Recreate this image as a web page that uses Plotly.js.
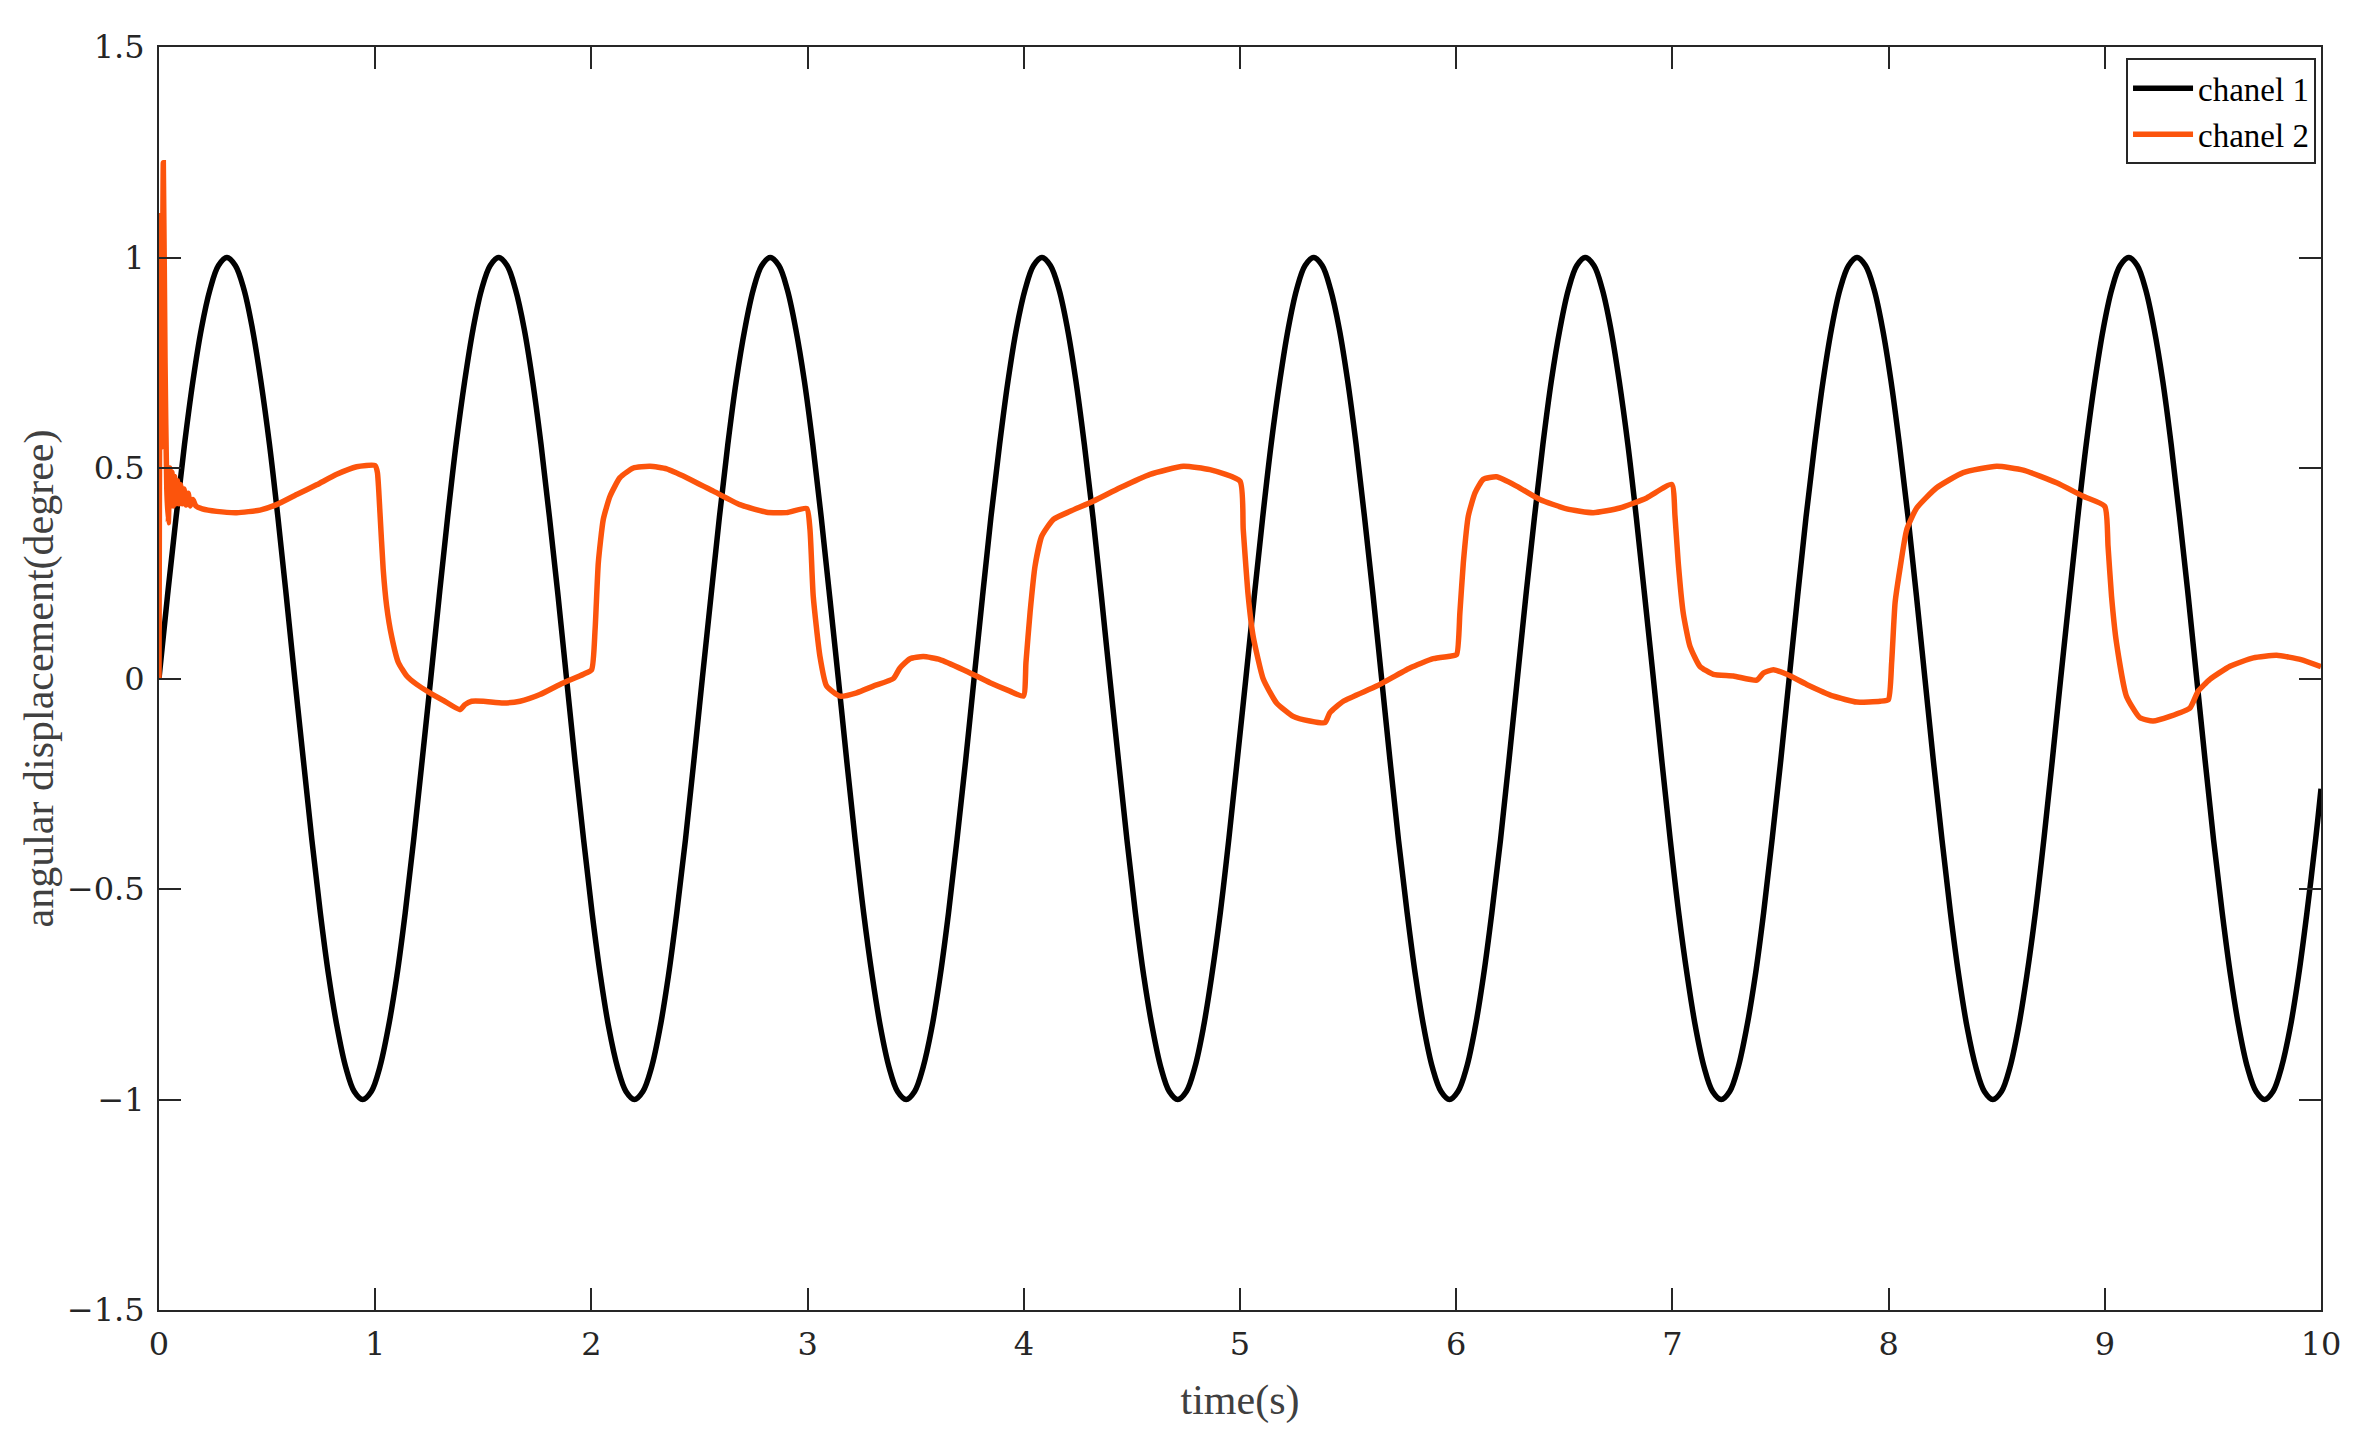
<!DOCTYPE html>
<html>
<head>
<meta charset="utf-8">
<script src="https://cdn.plot.ly/plotly-3.0.1.min.js"></script>
<style>html,body{margin:0;padding:0;background:#fff;}#chart{width:2356px;height:1436px;}</style>
</head>
<body>
<div id="chart"></div>
<script>
// chanel 1 (32 readings per cycle)
const ch1Time = [
  0, 0.039, 0.079, 0.118, 0.157, 0.196, 0.236, 0.275, 0.314, 0.353, 0.393, 0.432, 0.471, 0.511, 0.550, 0.589,
  0.628, 0.668, 0.707, 0.746, 0.785, 0.825, 0.864, 0.903, 0.942, 0.982, 1.021, 1.060, 1.100, 1.139, 1.178, 1.217,
  1.257, 1.296, 1.335, 1.374, 1.414, 1.453, 1.492, 1.532, 1.571, 1.610, 1.649, 1.689, 1.728, 1.767, 1.806, 1.846,
  1.885, 1.924, 1.964, 2.003, 2.042, 2.081, 2.121, 2.160, 2.199, 2.238, 2.278, 2.317, 2.356, 2.395, 2.435, 2.474,
  2.513, 2.553, 2.592, 2.631, 2.670, 2.710, 2.749, 2.788, 2.827, 2.867, 2.906, 2.945, 2.985, 3.024, 3.063, 3.102,
  3.142, 3.181, 3.220, 3.259, 3.299, 3.338, 3.377, 3.416, 3.456, 3.495, 3.534, 3.574, 3.613, 3.652, 3.691, 3.731,
  3.770, 3.809, 3.848, 3.888, 3.927, 3.966, 4.006, 4.045, 4.084, 4.123, 4.163, 4.202, 4.241, 4.280, 4.320, 4.359,
  4.398, 4.438, 4.477, 4.516, 4.555, 4.595, 4.634, 4.673, 4.712, 4.752, 4.791, 4.830, 4.869, 4.909, 4.948, 4.987,
  5.027, 5.066, 5.105, 5.144, 5.184, 5.223, 5.262, 5.301, 5.341, 5.380, 5.419, 5.459, 5.498, 5.537, 5.576, 5.616,
  5.655, 5.694, 5.733, 5.773, 5.812, 5.851, 5.890, 5.930, 5.969, 6.008, 6.048, 6.087, 6.126, 6.165, 6.205, 6.244,
  6.283, 6.322, 6.362, 6.401, 6.440, 6.480, 6.519, 6.558, 6.597, 6.637, 6.676, 6.715, 6.754, 6.794, 6.833, 6.872,
  6.912, 6.951, 6.990, 7.029, 7.069, 7.108, 7.147, 7.186, 7.226, 7.265, 7.304, 7.343, 7.383, 7.422, 7.461, 7.501,
  7.540, 7.579, 7.618, 7.658, 7.697, 7.736, 7.775, 7.815, 7.854, 7.893, 7.933, 7.972, 8.011, 8.050, 8.090, 8.129,
  8.168, 8.207, 8.247, 8.286, 8.325, 8.364, 8.404, 8.443, 8.482, 8.522, 8.561, 8.600, 8.639, 8.679, 8.718, 8.757,
  8.796, 8.836, 8.875, 8.914, 8.954, 8.993, 9.032, 9.071, 9.111, 9.150, 9.189, 9.228, 9.268, 9.307, 9.346, 9.386,
  9.425, 9.464, 9.503, 9.543, 9.582, 9.621, 9.660, 9.700, 9.739, 9.778, 9.817, 9.857, 9.896, 9.935, 9.975, 10];
const ch1Value = [
  0, 0.195, 0.383, 0.556, 0.707, 0.831, 0.924, 0.981, 1, 0.981, 0.924, 0.831, 0.707, 0.556, 0.383, 0.195,
  0, -0.195, -0.383, -0.556, -0.707, -0.831, -0.924, -0.981, -1, -0.981, -0.924, -0.831, -0.707, -0.556, -0.383, -0.195,
  0, 0.195, 0.383, 0.556, 0.707, 0.831, 0.924, 0.981, 1, 0.981, 0.924, 0.831, 0.707, 0.556, 0.383, 0.195,
  0, -0.195, -0.383, -0.556, -0.707, -0.831, -0.924, -0.981, -1, -0.981, -0.924, -0.831, -0.707, -0.556, -0.383, -0.195,
  0, 0.195, 0.383, 0.556, 0.707, 0.831, 0.924, 0.981, 1, 0.981, 0.924, 0.831, 0.707, 0.556, 0.383, 0.195,
  0, -0.195, -0.383, -0.556, -0.707, -0.831, -0.924, -0.981, -1, -0.981, -0.924, -0.831, -0.707, -0.556, -0.383, -0.195,
  0, 0.195, 0.383, 0.556, 0.707, 0.831, 0.924, 0.981, 1, 0.981, 0.924, 0.831, 0.707, 0.556, 0.383, 0.195,
  0, -0.195, -0.383, -0.556, -0.707, -0.831, -0.924, -0.981, -1, -0.981, -0.924, -0.831, -0.707, -0.556, -0.383, -0.195,
  0, 0.195, 0.383, 0.556, 0.707, 0.831, 0.924, 0.981, 1, 0.981, 0.924, 0.831, 0.707, 0.556, 0.383, 0.195,
  0, -0.195, -0.383, -0.556, -0.707, -0.831, -0.924, -0.981, -1, -0.981, -0.924, -0.831, -0.707, -0.556, -0.383, -0.195,
  0, 0.195, 0.383, 0.556, 0.707, 0.831, 0.924, 0.981, 1, 0.981, 0.924, 0.831, 0.707, 0.556, 0.383, 0.195,
  0, -0.195, -0.383, -0.556, -0.707, -0.831, -0.924, -0.981, -1, -0.981, -0.924, -0.831, -0.707, -0.556, -0.383, -0.195,
  0, 0.195, 0.383, 0.556, 0.707, 0.831, 0.924, 0.981, 1, 0.981, 0.924, 0.831, 0.707, 0.556, 0.383, 0.195,
  0, -0.195, -0.383, -0.556, -0.707, -0.831, -0.924, -0.981, -1, -0.981, -0.924, -0.831, -0.707, -0.556, -0.383, -0.195,
  0, 0.195, 0.383, 0.556, 0.707, 0.831, 0.924, 0.981, 1, 0.981, 0.924, 0.831, 0.707, 0.556, 0.383, 0.195,
  0, -0.195, -0.383, -0.556, -0.707, -0.831, -0.924, -0.981, -1, -0.981, -0.924, -0.831, -0.707, -0.556, -0.383, -0.262];

// chanel 2
const ch2Time = [0, 0.006, 0.012, 0.02, 0.028, 0.036, 0.043, 0.05, 0.055, 0.06,
  0.066, 0.072, 0.078, 0.085, 0.092, 0.1, 0.108, 0.116, 0.125, 0.135,
  0.145, 0.157, 0.17, 0.2, 0.267, 0.36, 0.467, 0.544, 0.637, 0.729,
  0.822, 0.914, 0.999, 1.01, 1.022, 1.037, 1.053, 1.076, 1.107, 1.146,
  1.192, 1.253, 1.315, 1.392, 1.415, 1.446, 1.5, 1.593, 1.67, 1.762,
  1.855, 1.963, 2.001, 2.017, 2.032, 2.055, 2.086, 2.132, 2.194, 2.271,
  2.348, 2.441, 2.564, 2.687, 2.81, 2.903, 2.996, 3.011, 3.026, 3.057,
  3.088, 3.15, 3.227, 3.304, 3.397, 3.427, 3.474, 3.535, 3.612, 3.72,
  3.844, 3.936, 3.998, 4.01, 4.029, 4.052, 4.083, 4.137, 4.214, 4.321,
  4.445, 4.584, 4.738, 4.861, 5.0, 5.015, 5.038, 5.061, 5.108, 5.169,
  5.246, 5.323, 5.393, 5.416, 5.478, 5.632, 5.786, 5.894, 5.971, 6.002,
  6.017, 6.033, 6.056, 6.087, 6.125, 6.187, 6.279, 6.387, 6.511, 6.634,
  6.757, 6.881, 6.997, 7.012, 7.027, 7.05, 7.081, 7.127, 7.189, 7.282,
  7.39, 7.421, 7.467, 7.529, 7.621, 7.745, 7.853, 7.961, 7.999, 8.014,
  8.03, 8.052, 8.084, 8.13, 8.222, 8.345, 8.5, 8.623, 8.777, 8.9,
  9.0, 9.015, 9.031, 9.054, 9.1, 9.162, 9.223, 9.301, 9.394, 9.432,
  9.486, 9.579, 9.687, 9.795, 9.908, 10.0];
const ch2Value = [0, 1.10, 0.55, 1.225, 0.75, 0.45, 0.37, 0.50, 0.41, 0.49,
  0.41, 0.48, 0.415, 0.47, 0.415, 0.46, 0.415, 0.45, 0.412, 0.44,
  0.41, 0.425, 0.41, 0.403, 0.397, 0.394, 0.40, 0.413, 0.437, 0.46,
  0.485, 0.503, 0.506, 0.49, 0.394, 0.259, 0.172, 0.10, 0.038, 0.006,
  -0.014, -0.034, -0.052, -0.074, -0.062, -0.054, -0.054, -0.058, -0.054, -0.038,
  -0.014, 0.01, 0.021, 0.116, 0.275, 0.378, 0.433, 0.477, 0.50, 0.504,
  0.498, 0.477, 0.445, 0.413, 0.395, 0.394, 0.404, 0.354, 0.196, 0.053,
  -0.018, -0.042, -0.034, -0.018, 0.0, 0.025, 0.047, 0.052, 0.045, 0.021,
  -0.01, -0.03, -0.042, 0.038, 0.157, 0.267, 0.338, 0.378, 0.397, 0.421,
  0.453, 0.485, 0.504, 0.496, 0.469, 0.354, 0.196, 0.10, -0.002, -0.058,
  -0.09, -0.101, -0.105, -0.081, -0.054, -0.018, 0.025, 0.047, 0.053, 0.057,
  0.156, 0.275, 0.386, 0.441, 0.473, 0.479, 0.457, 0.425, 0.403, 0.394,
  0.405, 0.429, 0.461, 0.386, 0.275, 0.156, 0.077, 0.029, 0.01, 0.006,
  -0.004, 0.013, 0.021, 0.01, -0.014, -0.042, -0.056, -0.054, -0.05, 0.037,
  0.18, 0.259, 0.354, 0.405, 0.453, 0.489, 0.504, 0.495, 0.465, 0.433,
  0.409, 0.314, 0.196, 0.085, -0.042, -0.093, -0.101, -0.09, -0.07, -0.03,
  -0.002, 0.029, 0.049, 0.055, 0.045, 0.028];

const xTickVals = [0, 1, 2, 3, 4, 5, 6, 7, 8, 9, 10];
const xTickText = ['0', '1', '2', '3', '4', '5', '6', '7', '8', '9', '10'];
const yTickVals = [-1.5, -1, -0.5, 0, 0.5, 1, 1.5];
const yTickText = ['\u22121.5', '\u22121', '\u22120.5', '0', '0.5', '1', '1.5'];
const seriesNames = ['chanel 1', 'chanel 2'];

const axisColor = '#262626';
const tickFont = {family: 'DejaVu Serif', size: 32, color: axisColor};
const titleFont = {family: 'Liberation Serif', size: 42, color: '#404040'};

const traces = [
  {x: ch1Time, y: ch1Value, name: seriesNames[0], type: 'scatter', mode: 'lines',
   line: {color: '#000000', width: 5.5, shape: 'spline', smoothing: 1}},
  {x: ch2Time, y: ch2Value, name: seriesNames[1], type: 'scatter', mode: 'lines',
   line: {color: '#FC540C', width: 5.5, shape: 'spline', smoothing: 0.5}}
];

const layout = {
  width: 2356, height: 1436,
  margin: {l: 159, r: 35, t: 47, b: 126},
  paper_bgcolor: '#ffffff', plot_bgcolor: '#ffffff',
  showlegend: true,
  legend: {
    x: 0.9977, xanchor: 'right', y: 0.991, yanchor: 'top',
    bgcolor: '#ffffff', bordercolor: axisColor, borderwidth: 2,
    font: {family: 'Liberation Serif', size: 33, color: '#000000'},
    itemwidth: 60, tracegroupgap: 0
  },
  xaxis: {
    range: [0, 10], tickvals: xTickVals, ticktext: xTickText,
    ticks: 'inside', ticklen: 22, tickwidth: 2, tickcolor: axisColor,
    showline: true, linecolor: axisColor, linewidth: 2, mirror: 'ticks',
    showgrid: false, zeroline: false, tickfont: tickFont, ticklabelstandoff: 5,
    title: {text: 'time(s)', font: titleFont, standoff: 22}
  },
  yaxis: {
    range: [-1.5, 1.5], tickvals: yTickVals, ticktext: yTickText,
    ticks: 'inside', ticklen: 22, tickwidth: 2, tickcolor: axisColor,
    showline: true, linecolor: axisColor, linewidth: 2, mirror: 'ticks',
    showgrid: false, zeroline: false, tickfont: tickFont, ticklabelstandoff: 6,
    title: {text: 'angular displacement(degree)', font: titleFont, standoff: 0}
  }
};

Plotly.newPlot('chart', traces, layout, {displayModeBar: false, staticPlot: true});
</script>
</body>
</html>
